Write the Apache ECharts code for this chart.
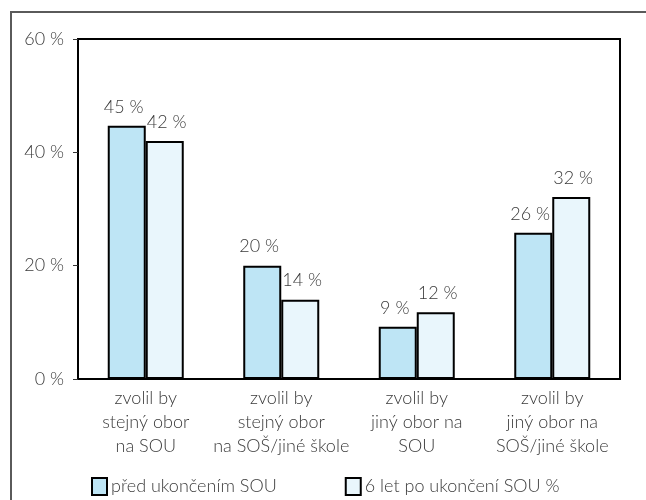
<!DOCTYPE html>
<html>
<head>
<meta charset="utf-8">
<script src="https://cdn.jsdelivr.net/npm/echarts@6/dist/echarts.min.js"></script>
<style>
html,body{margin:0;padding:0;background:#fff;}
#c{width:646px;height:500px;}
</style>
</head>
<body>
<div id="c"></div>
<script>
const categories = [
  "zvolil by\nstejný obor\nna SOU",
  "zvolil by\nstejný obor\nna SOŠ/jiné škole",
  "zvolil by\njiný obor na\nSOU",
  "zvolil by\njiný obor na\nSOŠ/jiné škole"
];
const seriesNames = ["před ukončením SOU", "6 let po ukončení SOU %"];
const beforeValues = [44.7, 20, 9.2, 25.8];
const afterValues = [42, 14, 11.8, 32.1];
const yTicks = [0, 20, 40, 60];

const FONT = "Lato";
const FW = 300;
const FS = 18;
const TXT = "#3a3a3a";

const chart = echarts.init(document.getElementById('c'), null, {renderer: 'canvas'});

function labelCfg(dx) {
  return {
    show: true,
    position: 'top',
    distance: 10,
    offset: [dx, 0],
    color: TXT,
    fontFamily: FONT,
    fontWeight: FW,
    fontSize: FS,
    formatter: p => Math.round(p.value) + ' %'
  };
}

chart.setOption({
  animation: false,
  textStyle: {fontFamily: FONT},
  graphic: [{
    type: 'rect',
    shape: {x: 11, y: 12, width: 800, height: 800},
    style: {fill: 'none', stroke: '#5a5a5a', lineWidth: 2},
    z: -1
  }],
  grid: {
    left: 78, top: 39, right: 26, bottom: 121,
    show: true, borderColor: '#000', borderWidth: 2, backgroundColor: 'transparent'
  },
  legend: {
    left: 86, top: 472,
    itemWidth: 15, itemHeight: 17, itemGap: 68,
    icon: 'rect',
    textStyle: {color: TXT, fontFamily: FONT, fontWeight: FW, fontSize: FS, padding: [0,0,0,-1]},
    itemStyle: {borderColor: '#000', borderWidth: 2},
    data: seriesNames
  },
  xAxis: {
    type: 'category',
    data: categories,
    axisLine: {show: true, lineStyle: {color: '#000', width: 2}},
    axisTick: {show: false},
    axisLabel: {
      color: TXT, fontFamily: FONT, fontWeight: FW, fontSize: FS, lineHeight: 24,
      margin: 7, interval: 0, align: 'center'
    }
  },
  yAxis: {
    type: 'value',
    min: yTicks[0], max: yTicks[yTicks.length - 1], interval: 20,
    splitLine: {show: false},
    axisLine: {show: true, lineStyle: {color: '#000', width: 2}},
    axisTick: {show: true, length: 5, lineStyle: {color: '#333', width: 1}},
    axisLabel: {
      color: TXT, fontFamily: FONT, fontWeight: FW, fontSize: FS, margin: 14,
      formatter: v => v + ' %'
    }
  },
  series: [
    {
      name: seriesNames[0], type: 'bar', data: beforeValues,
      barWidth: 38, barGap: '0%',
      itemStyle: {color: '#bee5f5', borderColor: '#000', borderWidth: 2},
      label: labelCfg(-3)
    },
    {
      name: seriesNames[1], type: 'bar', data: afterValues,
      barWidth: 38, barGap: '0%',
      itemStyle: {color: '#e9f6fc', borderColor: '#000', borderWidth: 2},
      label: labelCfg(2)
    }
  ]
});
</script>
</body>
</html>
